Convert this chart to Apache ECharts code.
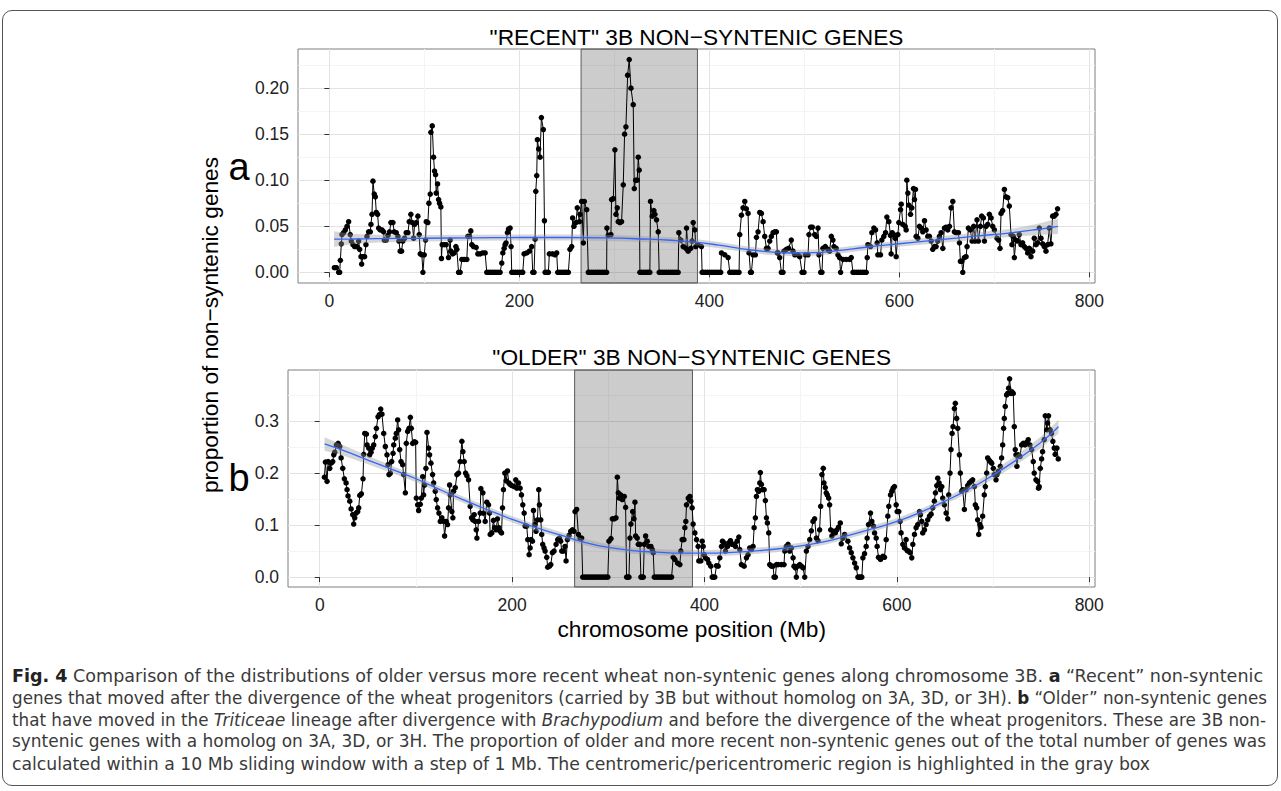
<!DOCTYPE html>
<html>
<head>
<meta charset="utf-8">
<script src="https://cdn.jsdelivr.net/npm/echarts@6/dist/echarts.min.js"></script>
<style>
html,body{margin:0;padding:0;background:#fff;width:1281px;height:791px;overflow:hidden;}
#frame{position:absolute;left:2px;top:10px;width:1276px;height:776px;border:1px solid #555;border-radius:10px;box-sizing:border-box;}
#chart{position:absolute;left:0;top:0;width:1281px;height:650px;}
.cap{position:absolute;left:12px;white-space:nowrap;font-family:"Liberation Sans Narrow","DejaVu Sans Condensed",sans-serif;font-size:18.5px;line-height:22px;color:#3a3a3a;transform-origin:0 0;}
.cap b{color:#222;}
</style>
</head>
<body>
<div id="frame"></div>
<div id="chart"></div>
<div class="cap" data-w="1251" style="top:665px"><b>Fig. 4</b> Comparison of the distributions of older versus more recent wheat non-syntenic genes along chromosome 3B. <b>a</b> “Recent” non-syntenic</div>
<div class="cap" data-w="1255" style="top:687px">genes that moved after the divergence of the wheat progenitors (carried by 3B but without homolog on 3A, 3D, or 3H). <b>b</b> “Older” non-syntenic genes</div>
<div class="cap" data-w="1254" style="top:709px">that have moved in the <i>Triticeae</i> lineage after divergence with <i>Brachypodium</i> and before the divergence of the wheat progenitors. These are 3B non-</div>
<div class="cap" data-w="1254" style="top:730px">syntenic genes with a homolog on 3A, 3D, or 3H. The proportion of older and more recent non-syntenic genes out of the total number of genes was</div>
<div class="cap" data-w="1138" style="top:753px">calculated within a 10 Mb sliding window with a step of 1 Mb. The centromeric/pericentromeric region is highlighted in the gray box</div>
<script>
// ---- data (Mb position, proportion) ----
const recent = [[5.3,0.005],[7.4,0.005],[9.8,0],[10.9,0],[11.6,0.013],[12.6,0.031],[13.3,0.041],[15,0.043],[16.8,0.046],[18.6,0.05],[20.3,0.055],[22,0.041],[23.1,0.034],[24.9,0.03],[26.6,0.028],[29,0.028],[30.8,0.034],[31.9,0.025],[33.3,0.017],[34,0.009],[35.4,0.017],[37.1,0.017],[38.5,0.03],[39.6,0.039],[41.3,0.044],[43.1,0.044],[43.8,0.052],[44.9,0.063],[45.9,0.099],[47.3,0.085],[48.4,0.082],[49.4,0.065],[50.8,0.063],[51.9,0.048],[53.6,0.046],[55.4,0.046],[57.1,0.044],[57.8,0.035],[59.9,0.035],[61.7,0.04],[63.4,0.044],[64.8,0.054],[66.9,0.054],[68.3,0.044],[70.4,0.043],[72.2,0.039],[73.2,0.034],[74.6,0.023],[76,0.023],[77.4,0.034],[79.2,0.037],[80.9,0.043],[82.7,0.043],[84.1,0.055],[85.8,0.063],[87.3,0.054],[88.7,0.037],[89.7,0.052],[91.5,0.054],[93.2,0.061],[94.6,0.041],[95.7,0.02],[97.4,0.019],[98.5,0],[99.9,0.019],[101.3,0.035],[102,0.055],[103.7,0.054],[104.8,0.075],[106.2,0.085],[106.9,0.152],[108.3,0.159],[109.7,0.125],[110.7,0.11],[111.8,0.106],[112.5,0.086],[113.9,0.096],[115,0.079],[116,0.075],[117.4,0.071],[118,0.015],[118.8,0.03],[120.9,0.03],[123,0.03],[125.4,0.016],[127.2,0.035],[127.9,0.023],[129.7,0.02],[131.4,0.021],[133.2,0.028],[134.2,0.025],[136,0],[137.7,0],[139.5,0.014],[141.9,0.014],[144.7,0.014],[145.8,0.039],[147.5,0.039],[148.9,0.045],[150,0.03],[151.7,0.028],[154.5,0.027],[156.3,0.02],[158.7,0.02],[161.5,0.021],[164,0.021],[165.7,0],[167.5,0],[169.5,0],[171.5,0],[173.5,0],[175.5,0],[177.5,0],[179.8,0],[181.5,0.01],[182.6,0.021],[184,0.026],[185,0.03],[186,0.032],[187.5,0.043],[188.5,0.047],[190.3,0.048],[191.3,0.028],[192,0],[194,0],[196,0],[198,0],[200,0],[202,0],[203.6,0],[205,0.02],[207.8,0.021],[210.6,0.023],[213,0.028],[214.1,0],[215.5,0],[216.6,0.036],[217.3,0.088],[218.3,0.105],[219,0.144],[220.4,0.134],[221.8,0.125],[223.2,0.168],[225.3,0.155],[226.4,0.056],[227.1,0],[229,0],[230.6,0],[231.6,0.02],[234.8,0.02],[237.6,0.019],[239.3,0.021],[240.4,0],[242,0],[244,0],[246,0],[248,0],[250,0],[251.6,0],[253.3,0.025],[255.1,0.028],[256.1,0.059],[257.5,0.05],[259.6,0.054],[261,0.07],[263.2,0.055],[263.9,0.063],[265.6,0.077],[267.4,0.032],[268.4,0.077],[270.9,0.068],[272.6,0],[274,0],[276,0],[278,0],[280,0],[282,0],[284,0],[286,0],[288,0],[290,0],[291.9,0],[292.2,0.048],[293.6,0.04],[296.4,0.041],[297.1,0.079],[298.9,0.08],[300.6,0.133],[301.7,0.063],[303.1,0.07],[304.1,0.055],[305.9,0.054],[307.6,0.055],[309.4,0.095],[310.8,0.15],[312.2,0.158],[314,0.214],[315.7,0.231],[317.5,0.2],[319.9,0.182],[321,0.091],[322.4,0.1],[324.1,0.1],[325.2,0.125],[326.2,0.111],[326.9,0],[328.5,0],[330.5,0],[332.5,0],[334.5,0],[336,0],[337.4,0],[338.1,0.077],[339.9,0.061],[341.6,0.067],[342.7,0.063],[344.4,0.057],[346.2,0.044],[347.2,0],[349,0],[351,0],[353,0],[355,0],[357,0],[359,0],[361,0],[363,0],[365,0],[367.2,0],[367.9,0.043],[370,0.035],[372.5,0.028],[375.3,0.026],[376,0.048],[377.7,0.023],[380.5,0.026],[381.9,0.034],[383,0.054],[384.7,0.046],[385.8,0.028],[388.2,0.03],[391.7,0.028],[392.4,0],[394,0],[396,0],[398,0],[400,0],[402,0],[404,0],[406,0],[408,0],[410,0],[412,0],[412.8,0.021],[416.3,0.019],[419.8,0.016],[421.5,0],[423,0],[425,0],[427,0],[429,0],[431.3,0],[432,0.041],[433.8,0.062],[435.5,0.07],[437.3,0.077],[439,0.069],[440.8,0.064],[441.8,0.021],[443.3,0],[444.3,0],[446,0.019],[448.5,0.019],[449.6,0.038],[451.3,0.044],[453.1,0.065],[454.8,0.064],[456.6,0.055],[458.3,0.039],[460.1,0.026],[461.8,0.026],[463.6,0.034],[465.3,0.039],[467.1,0.043],[468.8,0.044],[470.6,0.044],[471.6,0.021],[472.3,0.021],[474.1,0.016],[475.8,0],[477.6,0],[478.6,0.023],[481.1,0.025],[483.5,0.026],[486.3,0.035],[488.1,0.023],[489.9,0.019],[493.3,0.019],[495.1,0.017],[497.6,0],[499.7,0],[501.1,0.019],[503.9,0.019],[504.9,0.041],[506.7,0.049],[508.4,0.049],[510.9,0.041],[512.6,0.039],[514.4,0.048],[515.4,0.019],[517.2,0],[518.6,0],[519.6,0.026],[522.1,0.028],[524.9,0.025],[526.6,0.023],[528.4,0.039],[530.1,0.035],[531.2,0.028],[533.6,0.026],[535.4,0.019],[537.1,0.016],[538.2,0],[540.7,0.014],[544.2,0.014],[547.7,0.014],[549.4,0.016],[551.2,0],[553,0],[555,0],[557,0],[559,0],[561,0],[563,0],[565.2,0],[566.2,0.016],[566.9,0.03],[569.7,0.028],[571.1,0.043],[573.2,0.048],[575,0.046],[576.7,0.032],[577.4,0.019],[580.2,0.019],[581.6,0.035],[583.7,0.039],[585.5,0.043],[586.9,0.06],[589,0.055],[590.7,0.04],[591.4,0.02],[592.5,0.043],[594.2,0.041],[595.7,0.037],[596.7,0.017],[598.5,0.041],[599.5,0.054],[601.3,0.068],[602,0.074],[603.7,0.052],[606.2,0.05],[607.2,0.046],[607.9,0.1],[609,0.086],[610,0.073],[611.8,0.063],[613.2,0.07],[614.9,0.091],[616,0.079],[617,0.09],[617.7,0.039],[619.5,0.037],[621.2,0.05],[623,0.048],[624.7,0.044],[626.5,0.056],[628.2,0.046],[630,0.039],[631.7,0.039],[633.5,0.034],[635.2,0.025],[637,0.028],[638.7,0.028],[640.5,0.034],[642.2,0.039],[644,0.043],[645.8,0.026],[647.5,0.048],[649.3,0.049],[651,0.046],[652.8,0.05],[654.5,0.07],[656.3,0.077],[658,0.044],[659.8,0.043],[662.2,0.043],[663.3,0.032],[664.3,0.012],[665.7,0.012],[666.8,0],[668.5,0.016],[670.3,0.017],[671.3,0.028],[672.7,0.048],[674.8,0.046],[676.6,0.034],[678.3,0.05],[679.7,0.034],[681.8,0.057],[683.2,0.034],[685.4,0.05],[686.7,0.061],[688.5,0.059],[689.6,0.034],[691.3,0.05],[693.1,0.052],[694.8,0.063],[696.6,0.059],[698.3,0.05],[700.1,0.046],[702.9,0.037],[704.6,0.035],[706,0.026],[707.1,0.064],[708.8,0.067],[710.6,0.09],[712.3,0.082],[714.1,0.081],[715.8,0.072],[717.6,0.041],[718.6,0.03],[720,0.039],[721.1,0.016],[722.8,0.035],[724.6,0.034],[726.3,0.041],[728.1,0.03],[729.8,0.032],[731.6,0.028],[733.4,0.026],[735.1,0.021],[736.9,0.026],[738.6,0.017],[740.4,0.023],[742.1,0.037],[743.9,0.03],[745.6,0.032],[747.4,0.048],[749.1,0.037],[750.9,0.031],[752.6,0.028],[754.4,0.023],[756.1,0.03],[757.9,0.048],[759.6,0.031],[761.4,0.061],[763.1,0.061],[764.9,0.063],[766.6,0.069]];

const older = [[4.9,0.192],[5.9,0.221],[7.6,0.184],[8.7,0.222],[10.4,0.209],[11.8,0.219],[13.5,0.222],[14.6,0.235],[15.6,0.24],[17.3,0.254],[19.1,0.257],[20.8,0.251],[22.2,0.229],[23.9,0.209],[25.6,0.189],[27.4,0.181],[28.4,0.168],[29.4,0.156],[31.2,0.146],[32.6,0.131],[34.3,0.12],[35.3,0.102],[36.4,0.114],[37.8,0.123],[39.5,0.126],[40.5,0.133],[41.6,0.157],[43.3,0.16],[45,0.189],[45.7,0.236],[46.8,0.276],[48.5,0.275],[49.2,0.254],[50.9,0.248],[51.9,0.235],[53.3,0.24],[54.7,0.248],[56.1,0.254],[57.8,0.27],[58.9,0.286],[60.6,0.308],[62,0.312],[63.4,0.323],[64.7,0.313],[66.5,0.276],[68.2,0.251],[69.9,0.235],[71,0.216],[72,0.197],[73.4,0.2],[74.8,0.222],[76.2,0.238],[76.9,0.254],[78.6,0.267],[79.6,0.276],[81,0.302],[82,0.283],[83.1,0.245],[84.5,0.222],[86.2,0.216],[87.2,0.197],[89,0.162],[90,0.257],[91.4,0.28],[92.8,0.286],[94.2,0.307],[95.2,0.286],[96.6,0.257],[98.3,0.26],[99.7,0.259],[100.4,0.152],[101.8,0.139],[102.8,0.128],[104.5,0.14],[105.6,0.152],[107,0.193],[108,0.158],[109,0.177],[110.4,0.209],[111.5,0.278],[113.2,0.248],[114.2,0.235],[115.6,0.219],[117.3,0.197],[118.4,0.181],[120.1,0.165],[121.1,0.149],[122.5,0.133],[123.9,0.123],[125.3,0.107],[127,0.114],[128.7,0.107],[129.8,0.079],[131.5,0.107],[132.9,0.101],[133.9,0.133],[135,0.177],[135.7,0.158],[137.4,0.126],[138.4,0.114],[139.1,0.165],[140.9,0.172],[142.6,0.197],[144.3,0.2],[146,0.222],[147.8,0.261],[148.8,0.241],[150.2,0.222],[151.6,0.2],[153,0.195],[154.7,0.187],[156.4,0.136],[157.8,0.114],[159.2,0.11],[160.6,0.12],[161.6,0.107],[162.7,0.091],[163.4,0.075],[165.1,0.107],[166.8,0.123],[167.5,0.17],[169.6,0.162],[170.3,0.123],[172,0.107],[173.7,0.144],[175.5,0.139],[176.5,0.123],[177.2,0.082],[178.9,0.085],[180.6,0.109],[181.7,0.095],[183.4,0.091],[184.8,0.112],[186.2,0.095],[187.6,0.088],[189,0.085],[190,0.133],[191,0.168],[192.4,0.2],[193.8,0.185],[195.2,0.204],[196.6,0.181],[197.9,0.178],[199.7,0.176],[202.1,0.174],[203.8,0.187],[204.9,0.171],[206.6,0.181],[208.3,0.171],[209.7,0.158],[211.1,0.139],[212.5,0.123],[213.5,0.098],[215.2,0.098],[216.3,0.072],[217.7,0.043],[218.7,0.056],[219.7,0.072],[221.1,0.069],[222.2,0.128],[223.9,0.101],[224.9,0.088],[226.3,0.11],[227.7,0.168],[228.4,0.139],[229.8,0.11],[230.8,0.082],[231.8,0.063],[233.2,0.056],[234.3,0.05],[236,0.038],[237,0.019],[238.8,0.021],[240.2,0.024],[241.9,0.047],[243.6,0.05],[245.7,0.063],[247.4,0.072],[249.2,0.075],[250.5,0.069],[251.6,0.05],[253.3,0.05],[255,0.059],[256.1,0.031],[257.5,0.072],[259.2,0.08],[260.9,0.088],[262.7,0.091],[264.4,0.088],[265.4,0.126],[267.1,0.13],[268.9,0.082],[270.6,0.075],[272.3,0.075],[273.4,0],[275.5,0],[277.5,0],[279.5,0],[281.5,0],[283.5,0],[285.5,0],[287.5,0],[289.5,0],[291.5,0],[293.5,0],[295.5,0],[297.5,0],[299.5,0],[300.7,0.069],[302.8,0.074],[304.2,0.112],[306.2,0.112],[308,0.114],[309.4,0.192],[310.4,0.162],[311.4,0.152],[312.8,0.158],[314.6,0.149],[316.6,0.155],[318,0.134],[319,0],[320.3,0],[321.5,0],[322.5,0.075],[323.5,0.102],[325.3,0.126],[326.7,0.112],[327.7,0.144],[328.4,0.079],[330.1,0.075],[331.2,0.063],[332.9,0.063],[333.9,0],[335.2,0],[336.4,0],[337.4,0.063],[338.8,0.079],[340.5,0.069],[342.2,0.059],[344.3,0.059],[345.7,0.053],[346.7,0.047],[347.8,0],[349.8,0],[351.8,0],[353.8,0],[355.8,0],[357.8,0],[359.8,0],[361.8,0],[363.8,0],[365.8,0],[367.5,0.038],[369.2,0.034],[372,0.027],[374.4,0.024],[375.4,0.05],[376.8,0.072],[378.6,0.072],[379.6,0.095],[380.6,0.107],[381.3,0.139],[383.1,0.152],[384.8,0.155],[385.8,0.146],[387.2,0.133],[388.2,0.102],[390,0.085],[391.7,0.072],[393.4,0.059],[394.1,0.031],[396.2,0.031],[397.6,0.069],[398.6,0.059],[399.7,0.043],[401,0.037],[403.1,0.034],[404.5,0.027],[406.6,0.021],[408,0],[409.3,0],[410.7,0],[412.5,0.022],[414.2,0.021],[415.9,0.037],[417.7,0.059],[418.7,0.069],[420.4,0.066],[421.8,0.05],[423.9,0.059],[425.3,0.066],[427,0.07],[428.7,0.063],[430.5,0.063],[432.2,0.059],[433.9,0.069],[435.7,0.077],[436.7,0.053],[438.4,0.024],[441.2,0.021],[443.6,0.037],[445.3,0.043],[447,0.056],[448.8,0.053],[450.5,0.059],[451.6,0.095],[452.9,0.114],[454,0.155],[455,0.168],[456.4,0.165],[457.5,0.181],[458.1,0.201],[459.2,0.178],[460.2,0.168],[462,0.168],[463.3,0.147],[464.4,0.114],[465.4,0.104],[466.8,0.085],[467.8,0.024],[469.6,0.021],[471.3,0.021],[472.3,0],[473.7,0],[474.8,0.024],[476.5,0.024],[479.9,0.024],[482.7,0.024],[483.4,0.05],[485.1,0.059],[486.9,0.063],[488.6,0.05],[490.3,0.056],[492.1,0.037],[493.1,0.021],[494.5,0.018],[495.5,0],[497.2,0.021],[499,0.024],[500.7,0.021],[502.4,0.018],[504.2,0],[505.9,0.05],[507.6,0.059],[509.4,0.072],[511.1,0.089],[512.8,0.107],[514.5,0.112],[516.3,0.075],[518,0.07],[519.7,0.091],[520.8,0.136],[522.1,0.197],[523.5,0.209],[524.2,0.181],[525.6,0.172],[526.6,0.162],[527.7,0.158],[529.1,0.152],[530.1,0.139],[531.2,0.091],[532.5,0.079],[534.3,0.088],[536,0.085],[537.7,0.091],[539.4,0.096],[541.2,0.104],[542.2,0.064],[544,0.075],[545.7,0.082],[549.1,0.069],[550.9,0.056],[552.6,0.047],[554.3,0.037],[556.1,0.027],[557.8,0.018],[559.5,0],[561,0],[562.2,0],[563.6,0],[564.7,0.037],[566.4,0.045],[568.1,0.059],[569.1,0.075],[570.5,0.101],[572.6,0.123],[574,0.107],[575.7,0.098],[576.8,0.085],[578.5,0.075],[579.5,0.059],[580.9,0.038],[583,0.034],[585.4,0.04],[587.1,0.038],[588.9,0.072],[590.6,0.117],[591.6,0.136],[593.4,0.158],[594.8,0.165],[596.1,0.171],[597.5,0.174],[599.3,0.139],[600.3,0.126],[602,0.126],[603.4,0.107],[604.4,0.085],[606.2,0.063],[607.9,0.056],[609.6,0.072],[610.7,0.051],[612.1,0.05],[613.8,0.047],[615.5,0.037],[616.6,0.063],[618.3,0.082],[620,0.095],[621.7,0.101],[623.5,0.126],[624.5,0.12],[625.9,0.107],[626.9,0.085],[628.7,0.091],[630.4,0.101],[632.1,0.11],[633.9,0.117],[635.6,0.121],[637.3,0.133],[639,0.146],[640.1,0.162],[641.5,0.176],[642.5,0.19],[643.9,0.181],[645.3,0.168],[646.7,0.174],[647.7,0.152],[649.4,0.139],[651.2,0.123],[652.9,0.112],[653.9,0.158],[655.3,0.2],[656.3,0.245],[657.4,0.276],[658.4,0.289],[659.8,0.324],[660.8,0.334],[662.2,0.305],[663.3,0.286],[665,0.235],[666,0.2],[667.4,0.165],[668.5,0.168],[670.2,0.13],[671.9,0.168],[673.6,0.176],[675.4,0.181],[677.1,0.184],[678.8,0.187],[680.6,0.174],[681.6,0.139],[683,0.133],[684,0.11],[685.1,0.082],[686.4,0.101],[687.5,0.096],[689.2,0.117],[690.9,0.158],[692,0.174],[693.4,0.2],[694.4,0.229],[695.8,0.225],[697.2,0.222],[698.6,0.219],[700.3,0.209],[701.3,0.197],[703.1,0.187],[704.1,0.197],[705.5,0.203],[707.5,0.213],[708.9,0.229],[710,0.254],[711,0.286],[711.7,0.305],[712.7,0.328],[714.1,0.35],[715.2,0.353],[716.2,0.363],[717.2,0.381],[718.6,0.353],[719.7,0.356],[721,0.353],[722.1,0.289],[723.1,0.245],[723.8,0.235],[724.8,0.213],[726.2,0.235],[728,0.232],[729.7,0.254],[731.4,0.257],[733.2,0.254],[734.9,0.259],[736.6,0.264],[738.3,0.254],[740.1,0.245],[741.8,0.222],[742.8,0.2],[744.6,0.187],[746.3,0.184],[747.3,0.171],[748,0.174],[749.1,0.209],[750.5,0.227],[751.5,0.241],[753.2,0.264],[754.3,0.31],[756,0.283],[756.7,0.296],[757.7,0.31],[759.4,0.283],[760.8,0.276],[762.2,0.261],[763.6,0.248],[764.6,0.236],[766.4,0.248],[767.8,0.227]];

// loess fit: [Mb, fit, se]
const recentFit = [[5,0.036,0.0085],[25,0.0362,0.0055],[50,0.0365,0.0042],[100,0.037,0.0035],[150,0.0375,0.0033],[200,0.0378,0.0033],[250,0.0378,0.0033],[290,0.0374,0.0033],[330,0.0362,0.0033],[360,0.0348,0.0033],[385,0.0328,0.0033],[410,0.0295,0.0033],[435,0.0255,0.0033],[460,0.0225,0.0033],[485,0.021,0.0033],[510,0.0213,0.0033],[535,0.0235,0.0033],[565,0.0272,0.0033],[600,0.031,0.0033],[640,0.0352,0.0035],[680,0.0392,0.0038],[720,0.0432,0.0045],[745,0.0465,0.006],[767,0.05,0.0085]];
const olderFit = [[5,0.256,0.013],[25,0.243,0.010],[50,0.225,0.008],[75,0.207,0.007],[100,0.189,0.006],[125,0.168,0.006],[150,0.148,0.006],[175,0.129,0.006],[200,0.111,0.006],[225,0.095,0.006],[250,0.081,0.006],[275,0.067,0.006],[300,0.057,0.006],[325,0.051,0.006],[350,0.048,0.006],[375,0.046,0.006],[400,0.046,0.006],[425,0.047,0.006],[450,0.050,0.006],[475,0.054,0.006],[500,0.060,0.006],[525,0.068,0.006],[550,0.080,0.006],[575,0.093,0.006],[600,0.107,0.006],[625,0.125,0.006],[650,0.146,0.006],[675,0.169,0.007],[700,0.196,0.008],[725,0.226,0.009],[750,0.259,0.011],[768,0.289,0.013]];

const centromere = [265, 387.5];
const xTicks = [0, 200, 400, 600, 800];
const xMinorTicks = [100, 300, 500, 700];
const yTicksTop = [0, 0.05, 0.10, 0.15, 0.20];
const yMinorTop = [0.025, 0.075, 0.125, 0.175, 0.225];
const yTicksBottom = [0, 0.1, 0.2, 0.3];
const yMinorBottom = [0.05, 0.15, 0.25, 0.35];
const titleTop = '"RECENT" 3B NON\u2212SYNTENIC GENES';
const titleBottom = '"OLDER" 3B NON\u2212SYNTENIC GENES';
const yName = 'proportion of non\u2212syntenic genes';
const xName = 'chromosome position (Mb)';

// ---- layout ----
const X_EXT = [-33, 806];
const Y_EXT_TOP = [-0.0116, 0.2425];
const Y_EXT_BOT = [-0.019, 0.398];
const FONT = '"Liberation Sans", Arial, sans-serif';

const chart = echarts.init(document.getElementById('chart'), null, {renderer: 'svg'});

function majorAxis(type, gi, ext, ticks, fmt) {
  return {
    type: 'value', gridIndex: gi, min: ext[0], max: ext[1],
    position: type === 'x' ? 'bottom' : 'left',
    axisLine: {show: false},
    axisTick: {show: true, customValues: ticks, length: 5, lineStyle: {color: '#333', width: 1}},
    axisLabel: {customValues: ticks, margin: 9, fontSize: 17.5, color: '#222', fontFamily: FONT, formatter: fmt},
    splitLine: {show: true, lineStyle: {color: '#e3e3e3', width: 1}},
    minorTick: {show: false}, minorSplitLine: {show: false}
  };
}
function minorAxis(type, gi, ext, ticks) {
  return {
    type: 'value', gridIndex: gi, min: ext[0], max: ext[1],
    position: type === 'x' ? 'top' : 'right',
    axisLine: {show: false},
    axisTick: {show: false, customValues: ticks},
    axisLabel: {show: false, customValues: ticks},
    splitLine: {show: true, lineStyle: {color: '#f4f4f4', width: 1}}
  };
}
// confidence band drawn as one polygon through the axis scales
function bandSeries(fit, xi, yi) {
  return {
    type: 'custom', coordinateSystem: 'cartesian2d', xAxisIndex: xi, yAxisIndex: yi, silent: true, z: 4,
    data: fit.map(d => [d[0], d[1]]), encode: {x: 0, y: 1},
    renderItem: function (params, api) {
      if (params.dataIndex !== 0) return null;
      const up = fit.map(d => api.coord([d[0], d[1] + d[2]]));
      const lo = fit.map(d => api.coord([d[0], d[1] - d[2]])).reverse();
      return {type: 'polygon', shape: {points: up.concat(lo)}, style: {fill: 'rgba(153,153,153,0.4)', stroke: null}};
    }
  };
}
function pointSeries(data, xi, yi, yext) {
  return {
    type: 'line', xAxisIndex: xi, yAxisIndex: yi, data: data, symbol: 'circle', symbolSize: 5.5,
    showSymbol: true, showAllSymbol: true, silent: true, z: 3,
    itemStyle: {color: '#000'}, lineStyle: {color: '#000', width: 1},
    markArea: {silent: true, itemStyle: {color: 'rgba(0,0,0,0.2)', borderColor: '#5a5a5a', borderWidth: 1},
      data: [[{xAxis: centromere[0], yAxis: yext[0]}, {xAxis: centromere[1], yAxis: yext[1]}]]}
  };
}
function fitSeries(fit, xi, yi) {
  return {type: 'line', xAxisIndex: xi, yAxisIndex: yi, data: fit.map(d => [d[0], d[1]]), smooth: true, symbol: 'none',
    silent: true, lineStyle: {color: '#3366FF', width: 1.3}, z: 5};
}

function txt(x, y, text, size, extra) {
  return Object.assign({type: 'text', x: x, y: y, silent: true,
    style: {text: text, fill: '#000', fontSize: size, fontFamily: FONT,
      align: 'center', verticalAlign: 'middle', textAlign: 'center', textVerticalAlign: 'middle'}}, extra || {});
}

const option = {
  animation: false,
  backgroundColor: 'transparent',
  grid: [
    {left: 298, top: 49, width: 797, height: 234, show: true, borderColor: '#7f7f7f', borderWidth: 1, backgroundColor: '#fff', containLabel: false, outerBoundsMode: 'none'},
    {left: 288, top: 370, width: 807, height: 217, show: true, borderColor: '#7f7f7f', borderWidth: 1, backgroundColor: '#fff', containLabel: false, outerBoundsMode: 'none'}
  ],
  xAxis: [
    majorAxis('x', 0, X_EXT, xTicks, v => String(v)),
    majorAxis('x', 1, X_EXT, xTicks, v => String(v)),
    minorAxis('x', 0, X_EXT, xMinorTicks),
    minorAxis('x', 1, X_EXT, xMinorTicks)
  ],
  yAxis: [
    majorAxis('y', 0, Y_EXT_TOP, yTicksTop, v => v.toFixed(2)),
    majorAxis('y', 1, Y_EXT_BOT, yTicksBottom, v => v.toFixed(1)),
    minorAxis('y', 0, Y_EXT_TOP, yMinorTop),
    minorAxis('y', 1, Y_EXT_BOT, yMinorBottom)
  ],
  series: [
    pointSeries(recent, 0, 0, Y_EXT_TOP),
    bandSeries(recentFit, 0, 0),
    fitSeries(recentFit, 0, 0),
    pointSeries(older, 1, 1, Y_EXT_BOT),
    bandSeries(olderFit, 1, 1),
    fitSeries(olderFit, 1, 1)
  ],
  graphic: [
    txt(696.5, 37, titleTop, 22.7),
    txt(691.7, 357, titleBottom, 22.7),
    txt(691.7, 629, xName, 22.7),
    txt(210, 325, yName, 22.7, {rotation: Math.PI / 2}),
    txt(239, 167, 'a', 38),
    txt(239, 478, 'b', 38)
  ]
};
chart.setOption(option);

// fit caption lines to their widths in the figure
document.querySelectorAll('.cap').forEach(el => {
  const w = el.getBoundingClientRect().width;
  const target = +el.dataset.w;
  if (w > 0) el.style.transform = 'scaleX(' + (target / w).toFixed(4) + ')';
});
</script>
</body>
</html>
